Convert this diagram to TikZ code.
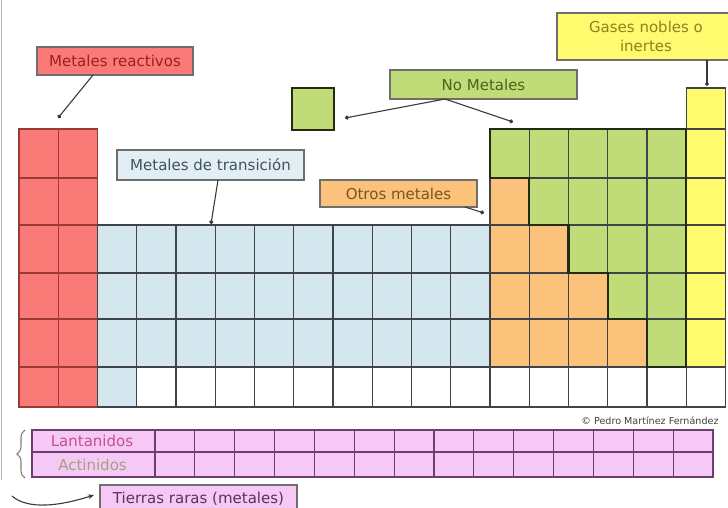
\documentclass[tikz,border=0pt]{standalone}
\usepackage{fontspec}
\setmainfont{DejaVu Sans}
\usetikzlibrary{arrows.meta,decorations.pathreplacing}
\definecolor{redc}{HTML}{F97A76}
\definecolor{redline}{HTML}{9A3A38}
\definecolor{bluec}{HTML}{D5E7EE}
\definecolor{greenc}{HTML}{BFDC78}
\definecolor{orangec}{HTML}{FBC27C}
\definecolor{yellowc}{HTML}{FFFA6E}
\definecolor{pinkc}{HTML}{F5C8F5}
\definecolor{pinkline}{HTML}{6E3E6E}
\definecolor{gridc}{HTML}{3E4448}
\definecolor{boxc}{HTML}{6E6E6E}
\definecolor{linec}{HTML}{3A3A3A}
\definecolor{darkc}{HTML}{262A10}
\definecolor{treact}{HTML}{9E1E1E}
\definecolor{tnomet}{HTML}{46661A}
\definecolor{tgases}{HTML}{8A8420}
\definecolor{ttrans}{HTML}{3E5260}
\definecolor{totros}{HTML}{7E5418}
\definecolor{tcopy}{HTML}{404040}
\definecolor{tlant}{HTML}{C8508C}
\definecolor{tact}{HTML}{A2A282}
\definecolor{ttier}{HTML}{5A3458}
\begin{document}
\begin{tikzpicture}[x=1pt,y=-1pt,
  cell/.style={draw=gridc, line width=1.1pt},
  lbl/.style={draw=boxc, line width=1.3pt, inner sep=0pt, font=\fontsize{15}{18}\selectfont},
  dotline/.style={draw=linec, line width=1.1pt, -{Circle[length=4pt]}},
  smalltxt/.style={font=\fontsize{15}{18}\selectfont}]
\clip (0,0) rectangle (728,508);
\fill[white] (0,0) rectangle (728,508);
\draw[gray!60, line width=1pt] (1.5,0) -- (1.5,480);
% red block
\foreach \c in {0,1}{
  \foreach \ya/\yb in {129/178,178/225,225/273,273/319,319/367,367/407}{
    \draw[cell,draw=redline,fill=redc] ({19+39.25*\c},\ya) rectangle ({19+39.25*(\c+1)},\yb);
  }}
% transition block
\foreach \c in {2,...,11}{
  \foreach \ya/\yb in {225/273,273/319,319/367}{
    \draw[cell,fill=bluec] ({19+39.25*\c},\ya) rectangle ({19+39.25*(\c+1)},\yb);
  }}
\draw[cell,fill=bluec] ({19+39.25*2},367) rectangle ({19+39.25*3},407);
\foreach \c in {3,...,17}{
  \draw[cell,fill=white] ({19+39.25*\c},367) rectangle ({19+39.25*(\c+1)},407);
}
% p block
\foreach \c in {12,...,16}{
  \foreach \ya/\yb/\n in {129/178/0,178/225/1,225/273/2,273/319/3,319/367/4}{
    \pgfmathtruncatemacro\k{\c-12}
    \ifnum\k<\n\relax\def\cc{orangec}\else\def\cc{greenc}\fi
    \draw[cell,fill=\cc] ({19+39.25*\c},\ya) rectangle ({19+39.25*(\c+1)},\yb);
  }}
\foreach \ya/\yb in {88/129,129/178,178/225,225/273,273/319,319/367}{
  \draw[cell,fill=yellowc] ({19+39.25*17},\ya) rectangle ({19+39.25*18},\yb);
}
\draw[line width=2.4pt, draw=darkc, line join=miter]
  (490,129) -- (686.25,129) -- (686.25,367) -- (647,367) -- (647,319) -- (607.75,319)
  -- (607.75,273) -- (568.5,273) -- (568.5,225) -- (529.25,225) -- (529.25,178)
  -- (490,178) -- cycle;
% small green square
\node[draw=darkc, line width=2.4pt, fill=greenc, minimum width=42pt, minimum height=42pt, inner sep=0pt] (sq) at (313,109) {};
% labels
\node[lbl, fill=redc, text=treact, minimum width=156pt, minimum height=28pt] (react) at (115,61) {Metales reactivos};
\node[lbl, fill=greenc, text=tnomet, minimum width=187pt, minimum height=29pt] (nomet) at (483.5,84.5) {No Metales};
\node[lbl, fill=yellowc, text=tgases, minimum width=178pt, minimum height=47pt, align=center] (gases) at (646,36.5) {Gases nobles o\\[1pt]inertes};
\node[lbl, fill=bluec!70!white, text=ttrans, minimum width=187pt, minimum height=30pt] (trans) at (210.5,165) {Metales de transición};
\node[lbl, fill=orangec, text=totros, minimum width=157pt, minimum height=27pt] (otros) at (398.5,193.5) {Otros metales};
% connector ends
\coordinate (reactS) at (93,75);
\coordinate (reactE) at (58,118);
\coordinate (nometS) at (445,99);
\coordinate (sqE) at (345,118);
\coordinate (nometE) at (513,122);
\coordinate (gasesS) at (707,60);
\coordinate (gasesE) at (707,86);
\coordinate (transS) at (218,180);
\coordinate (transE) at (211,224);
\coordinate (otrosS) at (465,207);
\coordinate (otrosE) at (484,213);
\draw[dotline] (reactS) -- (reactE);
\draw[dotline] (nometS) -- (sqE);
\draw[dotline] (nometS) -- (nometE);
\draw[dotline] (gasesS) -- (gasesE);
\draw[dotline] (transS) -- (transE);
\draw[dotline] (otrosS) -- (otrosE);
% copyright
\node[font=\fontsize{9.6}{11}\selectfont, text=tcopy] (copy) at (650,421) {© Pedro Martínez Fernández};
% lanthanides / actinides
\foreach \ya/\yb in {430/452,452/477}{
  \draw[cell,draw=pinkline,fill=pinkc] (32,\ya) rectangle (155,\yb);
  \foreach \c in {0,...,13}{
    \draw[cell,draw=pinkline,fill=pinkc] ({155+39.86*\c},\ya) rectangle ({155+39.86*(\c+1)},\yb);
  }}
\node[smalltxt, text=tlant] (lant) at (92,441) {Lantanidos};
\node[smalltxt, text=tact] (act) at (92.5,464.5) {Actinidos};
\coordinate (brTop) at (25,430);
\coordinate (brBot) at (25,478);
\draw[decorate, decoration={brace, amplitude=8pt}, draw=gray, line width=1.1pt] (brBot) -- (brTop);
% tierras raras
\node[lbl, fill=pinkc, text=ttier, minimum width=197pt, minimum height=28pt] (tierras) at (198.5,499) {Tierras raras (metales)};
\coordinate (curveS) at (12,496);
\coordinate (curveE) at (94,495);
\draw[draw=linec, line width=1.1pt, -{Stealth[length=6pt,width=5pt]}] (curveS) .. controls (28,510) and (60,506) .. (curveE);
\end{tikzpicture}
\end{document}
